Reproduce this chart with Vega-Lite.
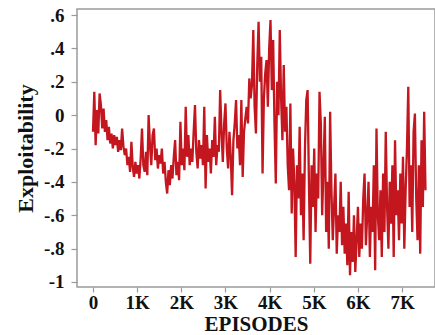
{
  "$schema": "https://vega.github.io/schema/vega-lite/v6.json",
  "width": 358,
  "height": 278,
  "autosize": {"type": "none"},
  "padding": {"left": 77, "top": 9, "right": 0, "bottom": 48},
  "background": "white",
  "config": {
    "view": {"stroke": "#9a9a9a", "strokeWidth": 1.5},
    "font": "Liberation Serif"
  },
  "data": {
    "values": [
      {"ep":0,"v":-0.10},{"ep":30,"v":0.14},{"ep":60,"v":-0.18},{"ep":90,"v":0.03},{"ep":120,"v":-0.11},{"ep":150,"v":0.13},{"ep":180,"v":0.06},{"ep":210,"v":-0.08},{"ep":240,"v":0.04},{"ep":270,"v":-0.10},
      {"ep":300,"v":-0.03},{"ep":330,"v":-0.15},{"ep":360,"v":-0.07},{"ep":390,"v":-0.17},{"ep":420,"v":-0.11},{"ep":450,"v":-0.20},{"ep":480,"v":-0.12},{"ep":510,"v":-0.18},{"ep":540,"v":-0.13},{"ep":570,"v":-0.22},
      {"ep":600,"v":-0.15},{"ep":630,"v":-0.21},{"ep":660,"v":-0.08},{"ep":690,"v":-0.19},{"ep":720,"v":-0.24},{"ep":750,"v":-0.20},{"ep":780,"v":-0.30},{"ep":810,"v":-0.25},{"ep":840,"v":-0.34},{"ep":870,"v":-0.16},
      {"ep":900,"v":-0.31},{"ep":930,"v":-0.37},{"ep":960,"v":-0.28},{"ep":990,"v":-0.35},{"ep":1020,"v":-0.30},{"ep":1050,"v":-0.38},{"ep":1080,"v":-0.26},{"ep":1110,"v":-0.08},{"ep":1140,"v":-0.30},{"ep":1170,"v":-0.34},
      {"ep":1200,"v":-0.22},{"ep":1230,"v":-0.36},{"ep":1260,"v":0.00},{"ep":1290,"v":-0.18},{"ep":1320,"v":-0.30},{"ep":1350,"v":-0.12},{"ep":1380,"v":-0.08},{"ep":1410,"v":-0.27},{"ep":1440,"v":-0.20},{"ep":1470,"v":-0.32},
      {"ep":1500,"v":-0.24},{"ep":1530,"v":-0.29},{"ep":1560,"v":-0.20},{"ep":1590,"v":-0.35},{"ep":1620,"v":-0.28},{"ep":1650,"v":-0.40},{"ep":1680,"v":-0.47},{"ep":1710,"v":-0.33},{"ep":1740,"v":-0.42},{"ep":1770,"v":-0.30},
      {"ep":1800,"v":-0.38},{"ep":1830,"v":-0.25},{"ep":1860,"v":-0.15},{"ep":1890,"v":-0.36},{"ep":1920,"v":-0.28},{"ep":1950,"v":-0.39},{"ep":1980,"v":-0.04},{"ep":2010,"v":-0.30},{"ep":2040,"v":-0.20},{"ep":2070,"v":-0.33},
      {"ep":2100,"v":0.05},{"ep":2130,"v":-0.25},{"ep":2160,"v":-0.12},{"ep":2190,"v":-0.30},{"ep":2220,"v":-0.20},{"ep":2250,"v":-0.28},{"ep":2280,"v":-0.10},{"ep":2310,"v":0.06},{"ep":2340,"v":-0.22},{"ep":2370,"v":-0.32},
      {"ep":2400,"v":-0.15},{"ep":2430,"v":-0.26},{"ep":2460,"v":-0.18},{"ep":2490,"v":-0.30},{"ep":2520,"v":0.05},{"ep":2550,"v":-0.44},{"ep":2580,"v":-0.12},{"ep":2610,"v":-0.28},{"ep":2640,"v":-0.20},{"ep":2670,"v":-0.35},
      {"ep":2700,"v":-0.15},{"ep":2730,"v":-0.25},{"ep":2760,"v":-0.01},{"ep":2790,"v":-0.30},{"ep":2820,"v":-0.18},{"ep":2850,"v":-0.22},{"ep":2880,"v":0.15},{"ep":2910,"v":-0.10},{"ep":2940,"v":-0.28},{"ep":2970,"v":-0.05},
      {"ep":3000,"v":0.07},{"ep":3030,"v":-0.20},{"ep":3060,"v":-0.32},{"ep":3090,"v":-0.10},{"ep":3120,"v":-0.25},{"ep":3150,"v":-0.48},{"ep":3180,"v":-0.15},{"ep":3210,"v":-0.05},{"ep":3240,"v":0.09},{"ep":3270,"v":-0.20},
      {"ep":3300,"v":-0.12},{"ep":3330,"v":-0.30},{"ep":3360,"v":0.09},{"ep":3390,"v":-0.37},{"ep":3420,"v":-0.10},{"ep":3450,"v":-0.02},{"ep":3480,"v":0.05},{"ep":3510,"v":-0.05},{"ep":3540,"v":0.22},{"ep":3570,"v":0.10},
      {"ep":3600,"v":0.18},{"ep":3630,"v":0.51},{"ep":3660,"v":0.05},{"ep":3690,"v":-0.11},{"ep":3720,"v":0.30},{"ep":3750,"v":0.56},{"ep":3780,"v":0.20},{"ep":3810,"v":0.35},{"ep":3840,"v":-0.35},{"ep":3870,"v":0.10},
      {"ep":3900,"v":0.25},{"ep":3930,"v":0.33},{"ep":3960,"v":0.05},{"ep":3990,"v":0.40},{"ep":4020,"v":0.57},{"ep":4050,"v":0.15},{"ep":4080,"v":0.45},{"ep":4110,"v":-0.05},{"ep":4140,"v":-0.41},{"ep":4170,"v":0.20},
      {"ep":4200,"v":0.00},{"ep":4230,"v":0.51},{"ep":4260,"v":0.10},{"ep":4290,"v":-0.15},{"ep":4320,"v":0.30},{"ep":4350,"v":-0.10},{"ep":4380,"v":0.05},{"ep":4410,"v":-0.30},{"ep":4440,"v":-0.45},{"ep":4470,"v":0.07},
      {"ep":4500,"v":-0.59},{"ep":4530,"v":-0.20},{"ep":4560,"v":-0.40},{"ep":4590,"v":-0.85},{"ep":4620,"v":-0.30},{"ep":4650,"v":-0.50},{"ep":4680,"v":-0.07},{"ep":4710,"v":-0.60},{"ep":4740,"v":-0.35},{"ep":4770,"v":-0.75},
      {"ep":4800,"v":-0.20},{"ep":4830,"v":0.09},{"ep":4860,"v":0.15},{"ep":4890,"v":-0.40},{"ep":4920,"v":-0.89},{"ep":4950,"v":-0.30},{"ep":4980,"v":-0.55},{"ep":5010,"v":-0.20},{"ep":5040,"v":-0.70},{"ep":5070,"v":-0.35},
      {"ep":5100,"v":-0.50},{"ep":5130,"v":0.14},{"ep":5160,"v":-0.05},{"ep":5190,"v":-0.60},{"ep":5220,"v":-0.30},{"ep":5250,"v":-0.01},{"ep":5280,"v":-0.70},{"ep":5310,"v":-0.40},{"ep":5340,"v":-0.80},{"ep":5370,"v":0.02},
      {"ep":5400,"v":-0.45},{"ep":5430,"v":-0.75},{"ep":5460,"v":-0.55},{"ep":5490,"v":-0.35},{"ep":5520,"v":-0.83},{"ep":5550,"v":-0.60},{"ep":5580,"v":-0.70},{"ep":5610,"v":-0.40},{"ep":5640,"v":-0.78},{"ep":5670,"v":-0.55},
      {"ep":5700,"v":-0.83},{"ep":5730,"v":-0.65},{"ep":5760,"v":-0.90},{"ep":5790,"v":-0.46},{"ep":5820,"v":-0.96},{"ep":5850,"v":-0.70},{"ep":5880,"v":-0.88},{"ep":5910,"v":-0.60},{"ep":5940,"v":-0.94},{"ep":5970,"v":-0.75},
      {"ep":6000,"v":-0.55},{"ep":6030,"v":-0.85},{"ep":6060,"v":-0.65},{"ep":6090,"v":-0.80},{"ep":6120,"v":-0.50},{"ep":6150,"v":-0.35},{"ep":6180,"v":-0.78},{"ep":6210,"v":-0.60},{"ep":6240,"v":-0.40},{"ep":6270,"v":-0.85},
      {"ep":6300,"v":-0.55},{"ep":6330,"v":-0.70},{"ep":6360,"v":-0.30},{"ep":6390,"v":-0.93},{"ep":6420,"v":-0.08},{"ep":6450,"v":-0.60},{"ep":6480,"v":-0.75},{"ep":6510,"v":-0.45},{"ep":6540,"v":-0.85},{"ep":6570,"v":-0.35},
      {"ep":6600,"v":-0.70},{"ep":6630,"v":-0.10},{"ep":6660,"v":-0.55},{"ep":6690,"v":-0.80},{"ep":6720,"v":-0.40},{"ep":6750,"v":-0.65},{"ep":6780,"v":-0.30},{"ep":6810,"v":-0.85},{"ep":6840,"v":-0.15},{"ep":6870,"v":-0.60},
      {"ep":6900,"v":-0.45},{"ep":6930,"v":-0.75},{"ep":6960,"v":-0.35},{"ep":6990,"v":-0.65},{"ep":7020,"v":-0.25},{"ep":7050,"v":-0.80},{"ep":7080,"v":-0.45},{"ep":7110,"v":-0.20},{"ep":7140,"v":0.17},{"ep":7170,"v":-0.55},
      {"ep":7200,"v":-0.30},{"ep":7230,"v":-0.70},{"ep":7260,"v":-0.10},{"ep":7290,"v":0.01},{"ep":7320,"v":-0.50},{"ep":7350,"v":-0.75},{"ep":7380,"v":-0.30},{"ep":7410,"v":-0.83},{"ep":7440,"v":-0.15},{"ep":7470,"v":-0.55},
      {"ep":7500,"v":0.02},{"ep":7530,"v":-0.45}
    ]
  },
  "mark": {"type": "line", "color": "#c4161e", "strokeWidth": 2.3, "interpolate": "linear", "strokeJoin": "miter", "strokeMiterLimit": 3},
  "encoding": {
    "x": {
      "field": "ep", "type": "quantitative",
      "scale": {"domain": [-362, 7745], "nice": false, "zero": false},
      "axis": {
        "title": "EPISODES", "values": [0,1000,2000,3000,4000,5000,6000,7000],
        "labelExpr": "datum.value == 0 ? '0' : (datum.value/1000) + 'K'",
        "grid": false, "domain": false, "tickColor": "#9a9a9a", "tickSize": 5, "tickWidth": 1.2,
        "labelFont": "Liberation Serif", "labelFontWeight": "bold", "labelFontSize": 19, "labelColor": "#111", "labelPadding": 1,
        "titleFont": "Liberation Serif", "titleFontWeight": "bold", "titleFontSize": 21, "titleColor": "#111", "titlePadding": 1
      }
    },
    "y": {
      "field": "v", "type": "quantitative",
      "scale": {"domain": [-1.03, 0.636], "nice": false, "zero": false},
      "axis": {
        "title": "Exploitability", "values": [-1,-0.8,-0.6,-0.4,-0.2,0,0.2,0.4,0.6],
        "labelExpr": "datum.value == 0 ? '0' : datum.value <= -0.99 ? '-1' : (datum.value < 0 ? '-.' : '.') + round(abs(datum.value)*10)",
        "grid": false, "domain": false, "tickColor": "#9a9a9a", "tickSize": 6, "tickWidth": 1.2,
        "labelFont": "Liberation Serif", "labelFontWeight": "bold", "labelFontSize": 19, "labelColor": "#111", "labelPadding": 7,
        "titleFont": "Liberation Serif", "titleFontWeight": "bold", "titleFontSize": 22, "titleColor": "#111", "titlePadding": 6
      }
    }
  }
}
